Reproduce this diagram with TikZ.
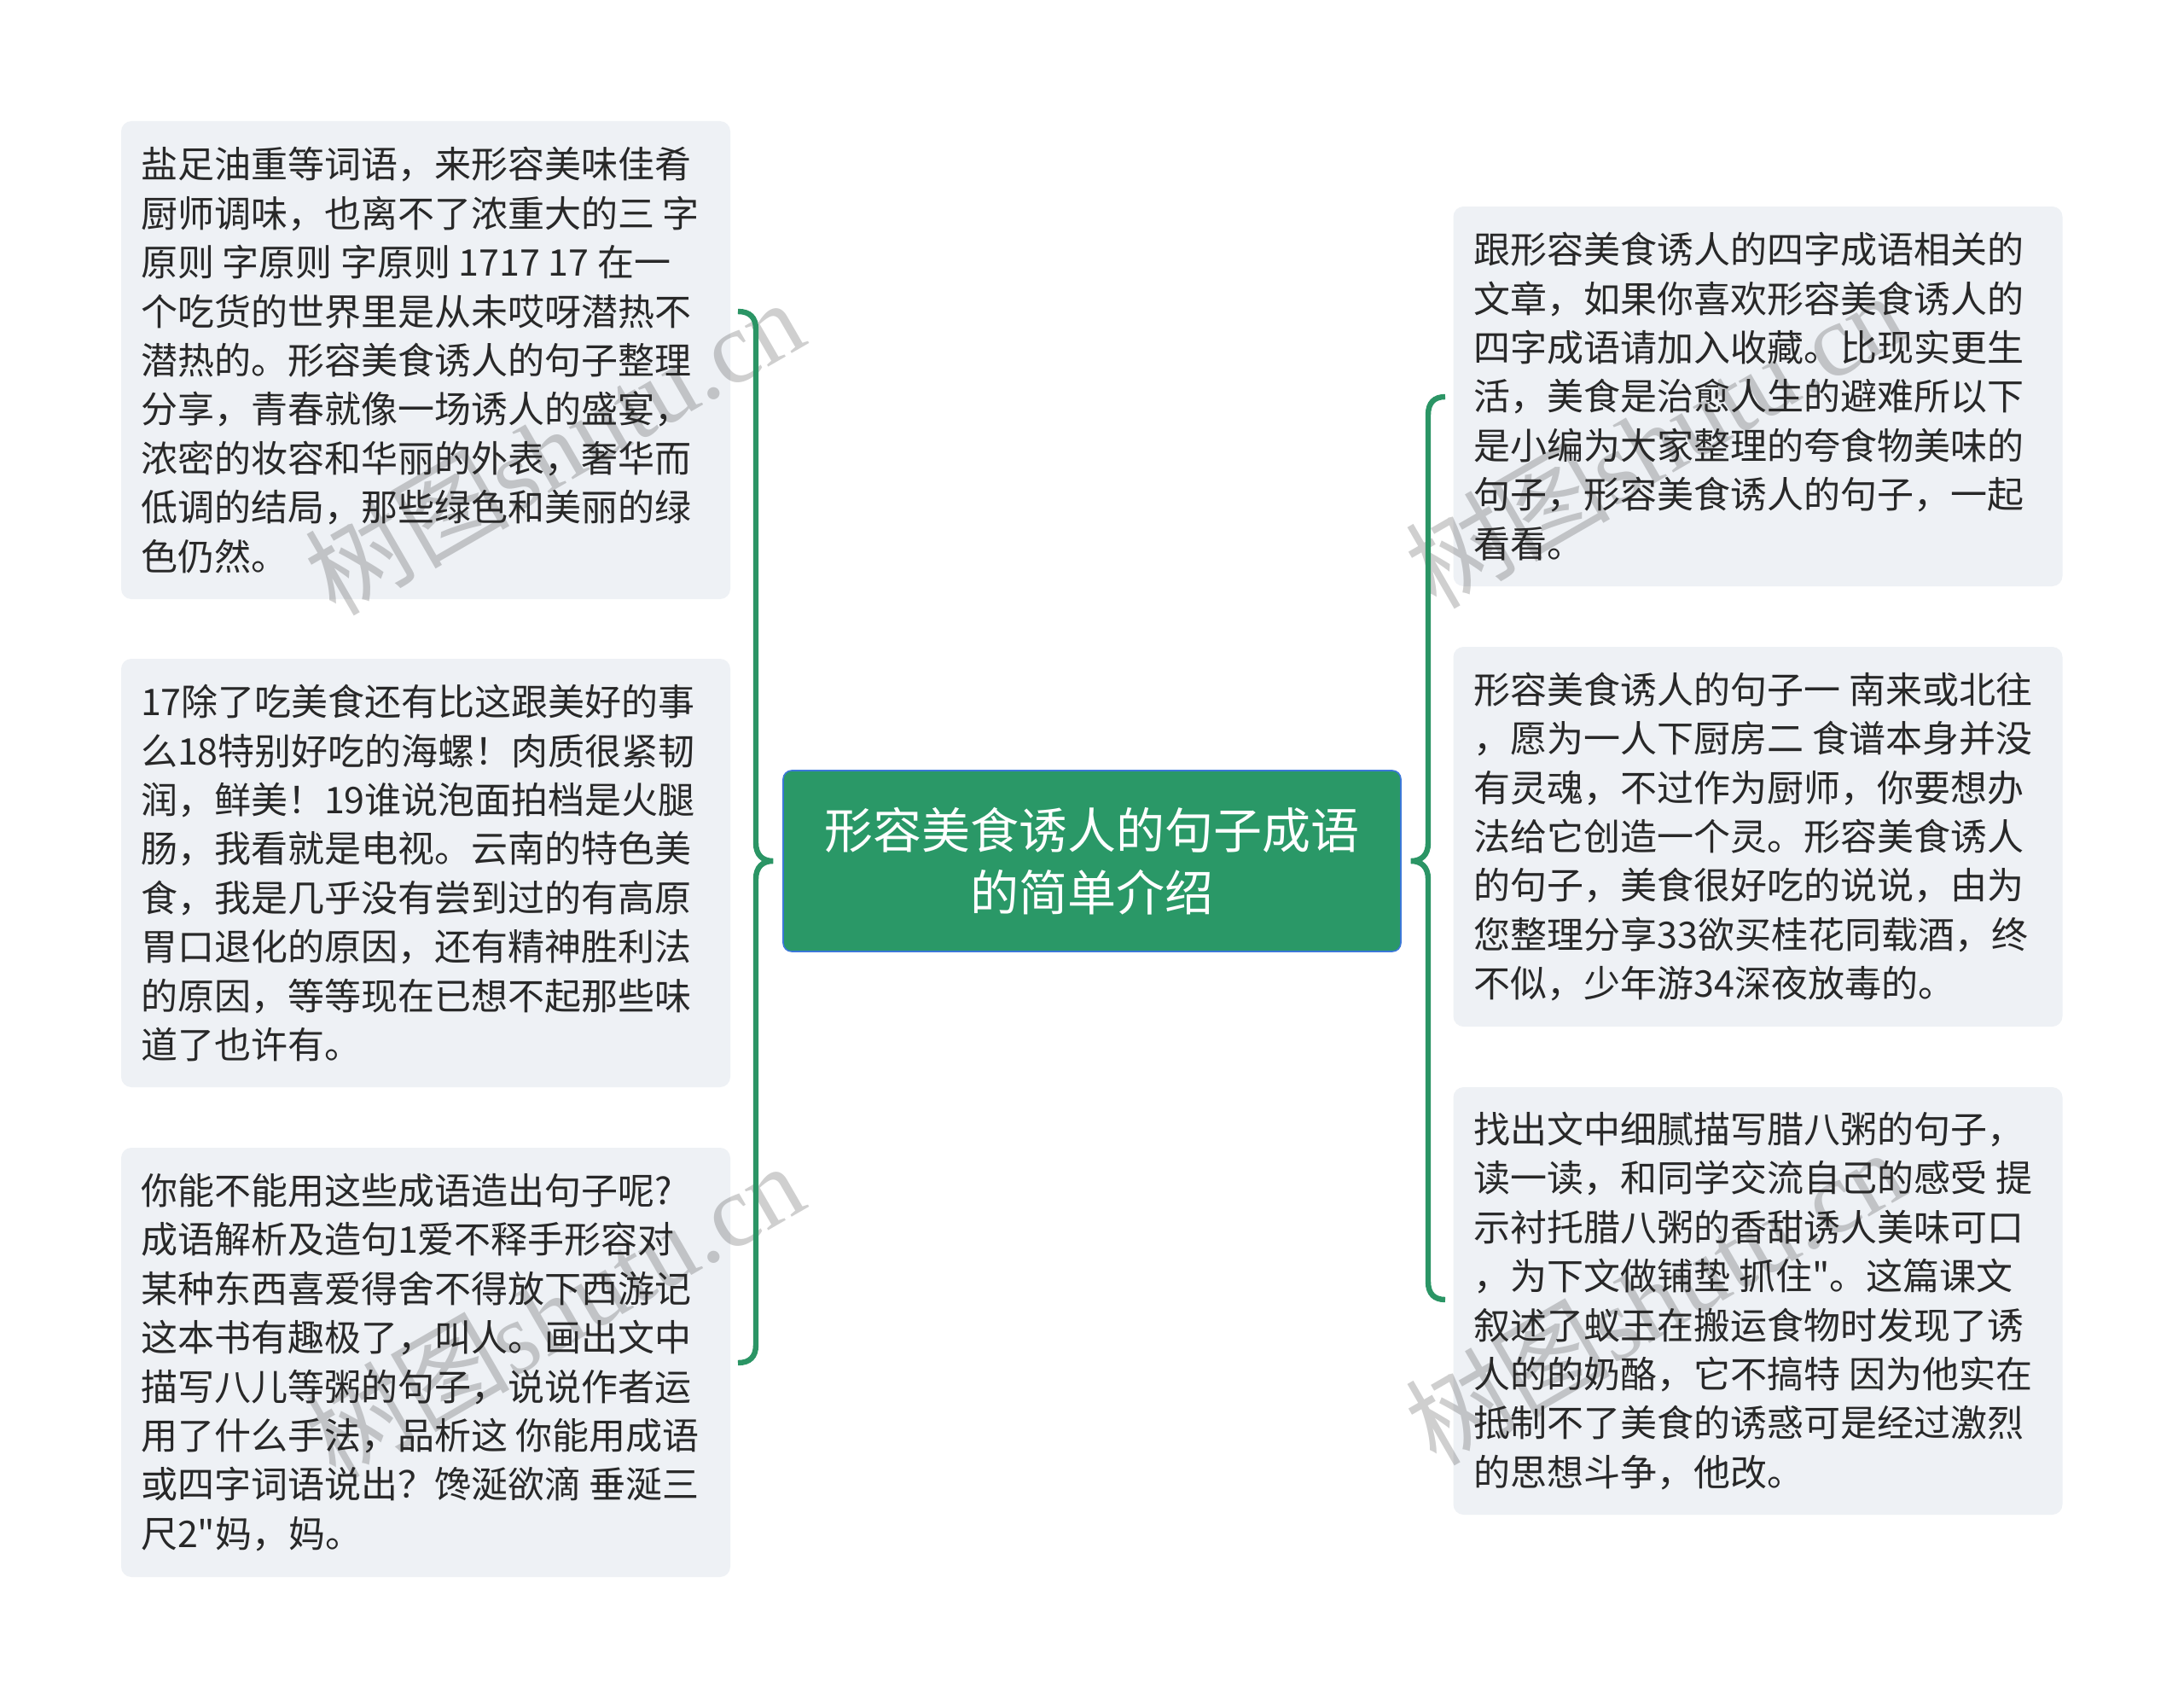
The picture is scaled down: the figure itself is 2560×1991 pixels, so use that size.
\documentclass[tikz,border=0pt]{standalone}
\usepackage{fontspec}
\setmainfont{Noto Sans CJK SC}[Ligatures=TeXOff]
\newfontfamily\wmlatin{Liberation Serif}
\newfontfamily\wmcjk{Noto Sans CJK SC}
\definecolor{boxfill}{HTML}{EEF1F5}
\definecolor{brgreen}{HTML}{2B9565}
\definecolor{cgreen}{HTML}{2A9867}
\definecolor{cborder}{HTML}{3C78D8}
\definecolor{txt}{HTML}{282828}
\begin{document}
\begin{tikzpicture}[x=0.5pt,y=-0.5pt,
  leaf/.style={fill=boxfill, rounded corners=6pt, draw=none, inner sep=0pt, minimum width=357pt},
  leaftext/.style={anchor=west, align=left, inner sep=0pt, text=txt, font=\fontsize{21.5pt}{28.7pt}\selectfont},
  root/.style={fill=cgreen, draw=cborder, line width=0.8pt, rounded corners=5pt, minimum width=362pt, minimum height=106pt, inner sep=0pt, align=center, text=white, font=\fontsize{28.5pt}{36.7pt}\selectfont},
  brace/.style={draw=brgreen, line width=3.2pt},
  wm/.style={rotate=30, text=black, opacity=0.19, inner sep=0pt}]
\useasboundingbox (0,0) rectangle (2560,1991);
\fill[white] (0,0) rectangle (2560,1991);

% boxes
\node[leaf, minimum height=280pt] (L1) at (499,422) {};
\node[leaf, minimum height=251pt] (L2) at (499,1023) {};
\node[leaf, minimum height=251.5pt] (L3) at (499,1596.5) {};
\node[leaf, minimum height=222.5pt] (R1) at (2060.5,464.5) {};
\node[leaf, minimum height=222.5pt] (R2) at (2060.5,980.5) {};
\node[leaf, minimum height=250.5pt] (R3) at (2060.5,1524.5) {};
\node[root] (C) at (1280,1009) {形容美食诱人的句子成语\\的简单介绍};

% watermarks
\node[wm] (W1) at (649,523) {\wmcjk\fontsize{60pt}{60pt}\selectfont 树图\wmlatin shutu.cn};
\node[wm] (W2) at (1939,515) {\wmcjk\fontsize{60pt}{60pt}\selectfont 树图\wmlatin shutu.cn};
\node[wm] (W3) at (649,1535) {\wmcjk\fontsize{60pt}{60pt}\selectfont 树图\wmlatin shutu.cn};
\node[wm] (W4) at (1939,1519) {\wmcjk\fontsize{60pt}{60pt}\selectfont 树图\wmlatin shutu.cn};

% texts
\node[leaftext] (L1t) at ([xshift=11.5pt]L1.west) {盐足油重等词语，来形容美味佳肴\\厨师调味，也离不了浓重大的三 字\\原则 字原则 字原则 1717 17 在一\\个吃货的世界里是从未哎呀潜热不\\潜热的。形容美食诱人的句子整理\\分享，青春就像一场诱人的盛宴，\\浓密的妆容和华丽的外表，奢华而\\低调的结局，那些绿色和美丽的绿\\色仍然。};
\node[leaftext] (L2t) at ([xshift=11.5pt]L2.west) {17除了吃美食还有比这跟美好的事\\么18特别好吃的海螺！肉质很紧韧\\润，鲜美！19谁说泡面拍档是火腿\\肠，我看就是电视。云南的特色美\\食，我是几乎没有尝到过的有高原\\胃口退化的原因，还有精神胜利法\\的原因，等等现在已想不起那些味\\道了也许有。};
\node[leaftext] (L3t) at ([xshift=11.5pt]L3.west) {你能不能用这些成语造出句子呢?\\成语解析及造句1爱不释手形容对\\某种东西喜爱得舍不得放下西游记\\这本书有趣极了，叫人。画出文中\\描写八儿等粥的句子，说说作者运\\用了什么手法，品析这 你能用成语\\或四字词语说出？馋涎欲滴 垂涎三\\尺2"妈，妈。};
\node[leaftext] (R1t) at ([xshift=12pt]R1.west) {跟形容美食诱人的四字成语相关的\\文章，如果你喜欢形容美食诱人的\\四字成语请加入收藏。比现实更生\\活，美食是治愈人生的避难所以下\\是小编为大家整理的夸食物美味的\\句子，形容美食诱人的句子，一起\\看看。};
\node[leaftext] (R2t) at ([xshift=12pt]R2.west) {形容美食诱人的句子一 南来或北往\\，愿为一人下厨房二 食谱本身并没\\有灵魂，不过作为厨师，你要想办\\法给它创造一个灵。形容美食诱人\\的句子，美食很好吃的说说，由为\\您整理分享33欲买桂花同载酒，终\\不似，少年游34深夜放毒的。};
\node[leaftext] (R3t) at ([xshift=12pt]R3.west) {找出文中细腻描写腊八粥的句子，\\读一读，和同学交流自己的感受 提\\示衬托腊八粥的香甜诱人美味可口\\，为下文做铺垫 抓住"。这篇课文\\叙述了蚁王在搬运食物时发现了诱\\人的的奶酪，它不搞特 因为他实在\\抵制不了美食的诱惑可是经过激烈\\的思想斗争，他改。};

% bracket connectors
\coordinate (lt) at (865,365);
\coordinate (lb) at (865,1597);
\coordinate (lm) at ([xshift=-5.5pt]C.west);
\coordinate (rt) at (1694,465);
\coordinate (rb) at (1694,1523);
\coordinate (rm) at ([xshift=5.5pt]C.east);

\draw[brace] (lt) .. controls (879,365) and (886,372) .. (886,386)
  -- (886,988) .. controls (886,1002) and (894,1009) .. (lm)
  .. controls (894,1009) and (886,1016) .. (886,1030)
  -- (886,1576) .. controls (886,1590) and (879,1597) .. (lb);
\draw[brace] (rt) .. controls (1681,465) and (1674,472) .. (1674,486)
  -- (1674,988) .. controls (1674,1002) and (1666,1009) .. (rm)
  .. controls (1666,1009) and (1674,1016) .. (1674,1030)
  -- (1674,1502) .. controls (1674,1516) and (1681,1523) .. (rb);
\end{tikzpicture}
\end{document}
